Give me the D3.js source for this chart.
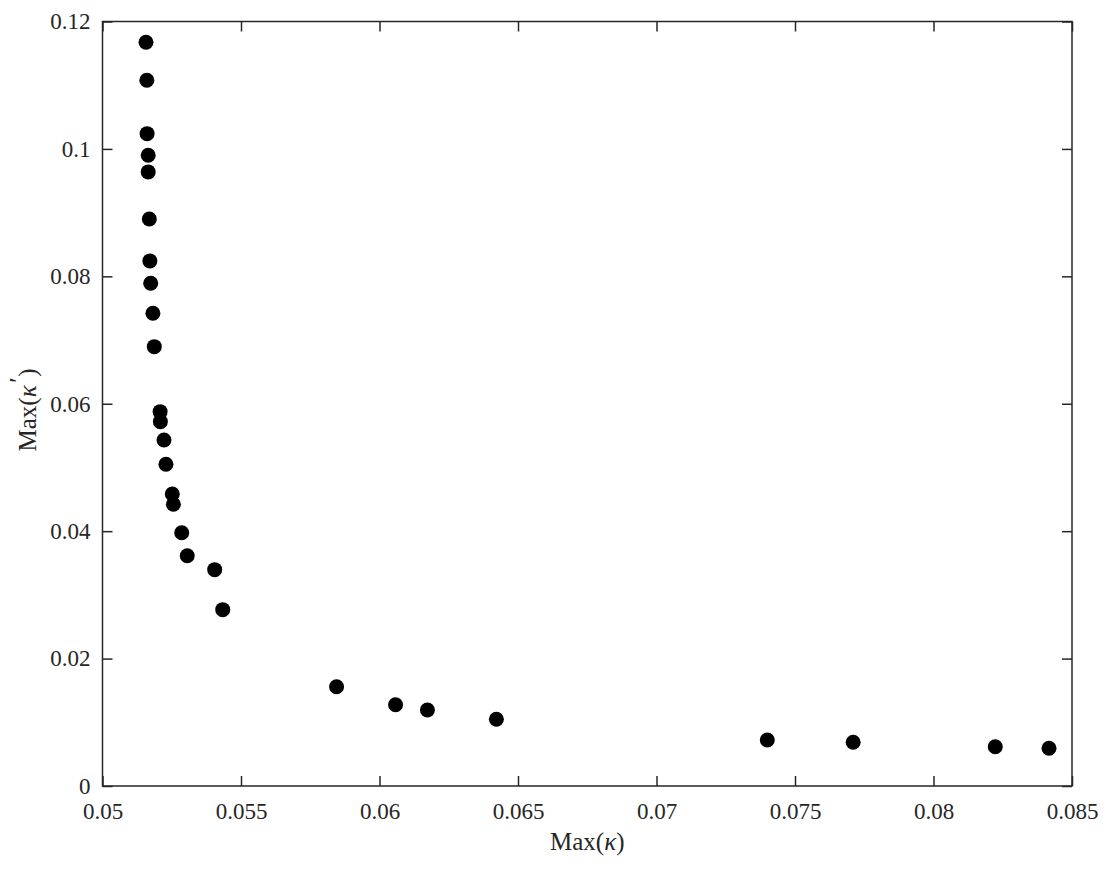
<!DOCTYPE html>
<html>
<head>
<meta charset="utf-8">
<script src="https://cdn.jsdelivr.net/npm/d3@7"></script>
<style>
  html, body { margin: 0; padding: 0; background: #fff; }
  svg { display: block; }
  text { font-family: "Liberation Serif", "DejaVu Serif", serif; fill: #262626; }
</style>
</head>
<body>
<svg id="chart" width="1112" height="870"></svg>
<script>
// Data
const maxKappa = [0.05157, 0.05160, 0.05161, 0.05165, 0.05165, 0.05169, 0.05171, 0.05174,
  0.05182, 0.05187, 0.05208, 0.05209, 0.05222, 0.05229, 0.05252, 0.05256, 0.05286, 0.05306,
  0.05405, 0.05434, 0.05845, 0.06058, 0.06173, 0.06422, 0.07400, 0.07710, 0.08223, 0.08417];
const maxKappaPrime = [0.11675, 0.11078, 0.10240, 0.09901, 0.09639, 0.08901, 0.08242, 0.07892,
  0.07421, 0.06896, 0.05876, 0.05719, 0.05432, 0.05050, 0.04584, 0.04422, 0.03976, 0.03615,
  0.03396, 0.02768, 0.01559, 0.01276, 0.01193, 0.01047, 0.00722, 0.00686, 0.00617, 0.00592];
const xTicks = [0.05, 0.055, 0.06, 0.065, 0.07, 0.075, 0.08, 0.085];
const yTicks = [0, 0.02, 0.04, 0.06, 0.08, 0.1, 0.12];

const svg = d3.select("#chart");
const pL = 102.5, pR = 1072, pT = 21.5, pB = 786;
const x = d3.scaleLinear().domain([0.05, 0.085]).range([pL, pR]);
const y = d3.scaleLinear().domain([0, 0.12]).range([pB, pT]);
const axisColor = "#262626";
const fmt = d => String(+d.toFixed(4));

// Box
svg.append("rect")
  .attr("x", pL).attr("y", pT)
  .attr("width", pR - pL).attr("height", pB - pT)
  .attr("fill", "none").attr("stroke", axisColor).attr("stroke-width", 1.5);

// Axes with inward ticks
function styleAxis(g) {
  g.attr("font-family", null).attr("font-size", null);
  g.select(".domain").remove();
  g.selectAll(".tick line").attr("stroke", axisColor).attr("stroke-width", 1.5);
  g.selectAll(".tick text").attr("font-size", "23px").attr("fill", axisColor)
    .style("font-family", "'Liberation Serif', serif");
}
svg.append("g").attr("transform", `translate(0,${pB})`)
  .call(d3.axisBottom(x).tickValues(xTicks).tickFormat(fmt).tickSizeInner(-10).tickSizeOuter(0))
  .call(styleAxis)
  .call(g => g.selectAll(".tick text").attr("dy", null).attr("y", 33));
svg.append("g").attr("transform", `translate(0,${pT})`)
  .call(d3.axisTop(x).tickValues(xTicks).tickFormat("").tickSizeInner(-10).tickSizeOuter(0))
  .call(styleAxis);
svg.append("g").attr("transform", `translate(${pL},0)`)
  .call(d3.axisLeft(y).tickValues(yTicks).tickFormat(fmt).tickSizeInner(-10).tickSizeOuter(0).tickPadding(12))
  .call(styleAxis);
svg.append("g").attr("transform", `translate(${pR},0)`)
  .call(d3.axisRight(y).tickValues(yTicks).tickFormat("").tickSizeInner(-10).tickSizeOuter(0))
  .call(styleAxis);

// Points
svg.append("g").selectAll("circle")
  .data(maxKappa.map((v, i) => [v, maxKappaPrime[i]]))
  .join("circle")
  .attr("cx", d => x(d[0])).attr("cy", d => y(d[1]))
  .attr("r", 7.5).attr("fill", "#000");

// Axis labels
const xl = svg.append("text").attr("x", (pL + pR) / 2).attr("y", 850)
  .attr("text-anchor", "middle").attr("font-size", "25px");
xl.append("tspan").text("Max(");
xl.append("tspan").attr("font-style", "italic").text("κ");
xl.append("tspan").text(")");

const yl = svg.append("text")
  .attr("transform", `translate(36,410) rotate(-90)`)
  .attr("text-anchor", "middle").attr("font-size", "25px");
yl.append("tspan").text("Max(");
yl.append("tspan").attr("font-style", "italic").text("κ");
yl.append("tspan").attr("font-style", "italic").attr("dy", -9).attr("dx", 1).text("′");
yl.append("tspan").attr("dy", 9).attr("dx", 2).text(")");
</script>
</body>
</html>
